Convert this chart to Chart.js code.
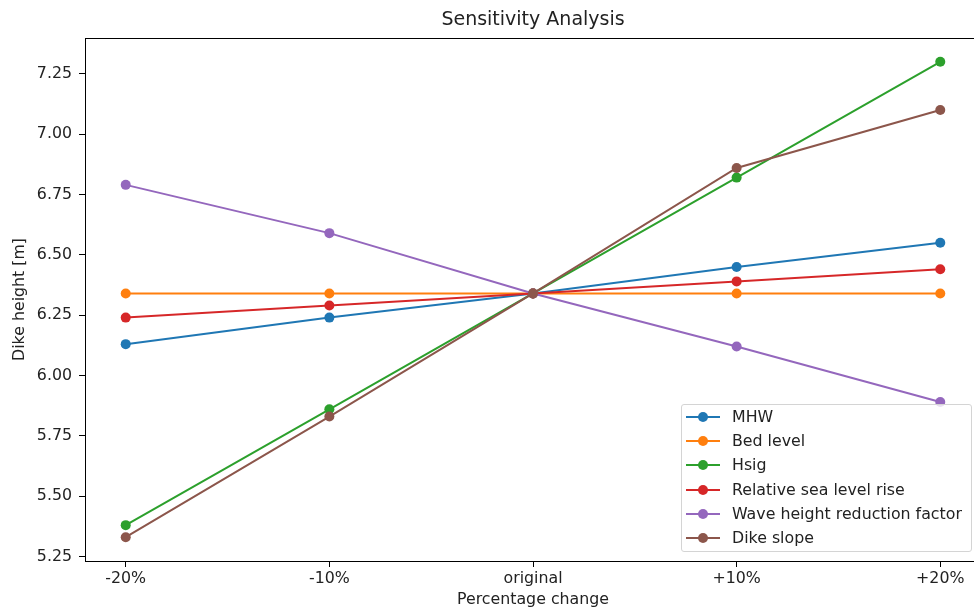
<!DOCTYPE html>
<html>
<head>
<meta charset="utf-8">
<script src="https://cdn.jsdelivr.net/npm/chart.js@4.4.1/dist/chart.umd.min.js"></script>
<style>
  html, body { margin: 0; padding: 0; background: #fff; overflow: hidden; }
  #wrap { position: relative; width: 974px; height: 609px; overflow: hidden; }
  #chart { position: absolute; left: 0; top: 0; }
  #legend {
    position: absolute; left: 681px; top: 404px; width: 289px; height: 146px;
    border: 1px solid #d4d4d4; border-radius: 3px; background: rgba(255,255,255,0.8);
    font-family: "DejaVu Sans", sans-serif; font-size: 15.8px; color: #222;
    box-sizing: content-box;
  }
  .row { position: absolute; left: 0; height: 20px; line-height: 20px; white-space: nowrap; }
  .row svg { position: absolute; left: 4px; top: 0; }
  .row span { position: absolute; left: 50px; top: 0; }
</style>
</head>
<body>
<div id="wrap">
  <canvas id="chart" width="990" height="609"></canvas>
  <div id="legend"></div>
</div>
<script>
const categories = ['-20%', '-10%', 'original', '+10%', '+20%'];
const mhw = [6.13, 6.24, 6.34, 6.45, 6.55];
const bedLevel = [6.34, 6.34, 6.34, 6.34, 6.34];
const hsig = [5.38, 5.86, 6.34, 6.82, 7.30];
const seaLevelRise = [6.24, 6.29, 6.34, 6.39, 6.44];
const waveReduction = [6.79, 6.59, 6.34, 6.12, 5.89];
const dikeSlope = [5.33, 5.83, 6.34, 6.86, 7.10];
const yTicks = [5.25, 5.50, 5.75, 6.00, 6.25, 6.50, 6.75, 7.00, 7.25];

const series = [
  { label: 'MHW', data: mhw, color: '#1f77b4' },
  { label: 'Bed level', data: bedLevel, color: '#ff7f0e' },
  { label: 'Hsig', data: hsig, color: '#2ca02c' },
  { label: 'Relative sea level rise', data: seaLevelRise, color: '#d62728' },
  { label: 'Wave height reduction factor', data: waveReduction, color: '#9467bd' },
  { label: 'Dike slope', data: dikeSlope, color: '#8c564b' }
];

// matplotlib style 5% margins
const allVals = series.flatMap(s => s.data);
const lo = Math.min(...allVals), hi = Math.max(...allVals);
const yPad = (hi - lo) * 0.05;
const xPad = (categories.length - 1) * 0.05;

const font = 'DejaVu Sans';
const textColor = '#222';

const frame = {
  id: 'frame',
  afterDatasetsDraw(chart) {
    const { ctx, chartArea: a } = chart;
    ctx.save();
    ctx.strokeStyle = '#000';
    ctx.lineWidth = 1;
    ctx.strokeRect(Math.round(a.left) + 0.5, Math.round(a.top) + 0.5,
      Math.round(a.right - a.left), Math.round(a.bottom - a.top));
    ctx.restore();
  }
};

const chart = new Chart(document.getElementById('chart'), {
  type: 'line',
  data: {
    datasets: series.map((s, i) => ({
      label: s.label,
      data: s.data.map((v, j) => ({ x: j, y: v })),
      borderColor: s.color,
      backgroundColor: s.color,
      borderWidth: 2,
      pointRadius: 5,
      pointBorderWidth: 0,
      pointHoverRadius: 5,
      tension: 0,
      order: series.length - i
    }))
  },
  options: {
    responsive: false,
    animation: false,
    layout: { padding: { left: 0, right: 9, top: 0, bottom: 0 } },
    plugins: {
      legend: { display: false },
      tooltip: { enabled: false },
      title: {
        display: true,
        text: 'Sensitivity Analysis',
        fullSize: false,
        color: textColor,
        font: { family: font, size: 19, weight: 'normal' },
        padding: { top: 8.6, bottom: 6.6 }
      }
    },
    scales: {
      x: {
        type: 'linear',
        min: -xPad,
        max: categories.length - 1 + xPad,
        afterBuildTicks: s => { s.ticks = categories.map((c, i) => ({ value: i })); },
        afterFit: s => { s.height = 48; },
        ticks: {
          callback: v => categories[v],
          color: textColor,
          font: { family: font, size: 15.8 },
          padding: 2,
          maxRotation: 0,
          autoSkip: false
        },
        grid: { drawOnChartArea: false, drawTicks: true, tickLength: 6, color: '#000' },
        border: { display: true, color: '#000', width: 1 },
        title: {
          display: true,
          text: 'Percentage change',
          color: textColor,
          font: { family: font, size: 15.8 },
          padding: { top: 0, bottom: 0 }
        }
      },
      y: {
        type: 'linear',
        min: lo - yPad,
        max: hi + yPad,
        afterBuildTicks: s => { s.ticks = yTicks.map(v => ({ value: v })); },
        afterFit: s => { s.width = 85; },
        ticks: {
          callback: v => v.toFixed(2),
          color: textColor,
          font: { family: font, size: 15.8 },
          padding: 7
        },
        grid: { drawOnChartArea: false, drawTicks: true, tickLength: 6, color: '#000' },
        border: { display: true, color: '#000', width: 1 },
        title: {
          display: true,
          text: 'Dike height [m]',
          color: textColor,
          font: { family: font, size: 15.8 },
          padding: { top: 10.5, bottom: 0 }
        }
      }
    }
  },
  plugins: [frame]
});

// legend in the lower right, like matplotlib's
const legend = document.getElementById('legend');
series.forEach((s, i) => {
  const row = document.createElement('div');
  row.className = 'row';
  row.style.top = (2 + i * 24.2) + 'px';
  row.style.width = '289px';
  row.innerHTML =
    `<svg width="36" height="20"><line x1="0" y1="10" x2="34" y2="10" stroke="${s.color}" stroke-width="2"/>` +
    `<circle cx="17" cy="10" r="5" fill="${s.color}"/></svg><span>${s.label}</span>`;
  legend.appendChild(row);
});
</script>
</body>
</html>
